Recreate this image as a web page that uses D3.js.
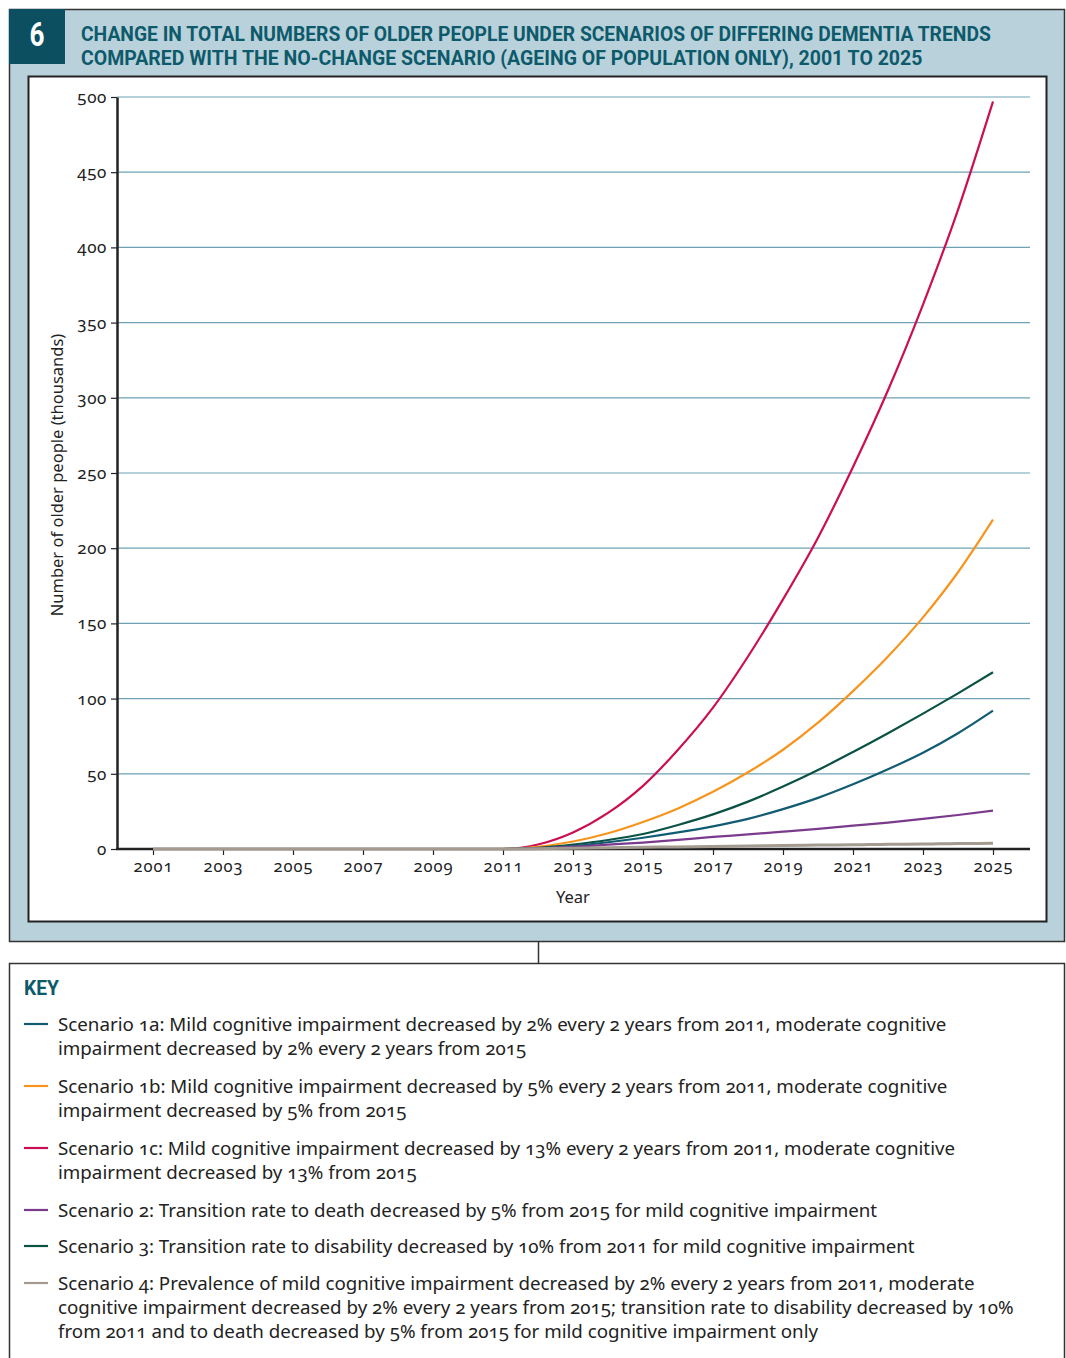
<!DOCTYPE html>
<html>
<head>
<meta charset="utf-8">
<script src="https://cdn.jsdelivr.net/npm/d3@7"></script>
<style>
  body { margin: 0; background: #fff; }
  svg { display: block; }
  .body-font { font-family: "Noto Sans", "Open Sans", sans-serif; font-variant-numeric: oldstyle-nums; }
  .title-font { font-family: Roboto, "Liberation Sans", sans-serif; font-weight: bold; }
</style>
</head>
<body>
<svg id="chart"></svg>
<script>
// years on the x axis
const years = d3.range(2001, 2026);
const tickYears = [2001, 2003, 2005, 2007, 2009, 2011, 2013, 2015, 2017, 2019, 2021, 2023, 2025];
const yTicks = [0, 50, 100, 150, 200, 250, 300, 350, 400, 450, 500];

// values in thousands, 2001..2025 (zero until 2011)
const zeros = [0, 0, 0, 0, 0, 0, 0, 0, 0, 0, 0];
const s1a = zeros.concat([0.5, 2, 4.5, 7.5, 11, 15, 20, 26.5, 34, 43, 53, 64, 77, 92]);
const s1b = zeros.concat([1.5, 5, 10.5, 18, 27, 38, 51, 66, 84, 105, 128, 154, 184, 219]);
const s1c = zeros.concat([3, 11, 24, 42, 66, 94, 128, 166, 207, 254, 305, 362, 425, 497]);
const s2 = zeros.concat([0.4, 1.5, 2.9, 4.3, 6.1, 8, 9.7, 11.5, 13.4, 15.5, 17.6, 20, 22.6, 25.5]);
const s3 = zeros.concat([0.8, 3, 6, 10, 16, 23, 31.5, 41.5, 52.5, 64.5, 77, 90, 103.5, 117.5]);
const s4 = zeros.concat([0.2, 0.5, 0.8, 1.1, 1.4, 1.7, 2, 2.3, 2.6, 2.8, 3.1, 3.3, 3.6, 3.8]);

const seriesNames = ["1a", "1b", "1c", "2", "3", "4"];
const seriesValues = [s1a, s1b, s1c, s2, s3, s4];
const seriesColors = ["#115c72", "#f7941d", "#cc0e52", "#7a3b8c", "#0a5243", "#a39a90"];

const titleLines = [
  "CHANGE IN TOTAL NUMBERS OF OLDER PEOPLE UNDER SCENARIOS OF DIFFERING DEMENTIA TRENDS",
  "COMPARED WITH THE NO-CHANGE SCENARIO (AGEING OF POPULATION ONLY), 2001 TO 2025"
];

const keyLines = [
  ["Scenario 1a: Mild cognitive impairment decreased by 2% every 2 years from 2011, moderate cognitive",
   "impairment decreased by 2% every 2 years from 2015"],
  ["Scenario 1b: Mild cognitive impairment decreased by 5% every 2 years from 2011, moderate cognitive",
   "impairment decreased by 5% from 2015"],
  ["Scenario 1c: Mild cognitive impairment decreased by 13% every 2 years from 2011, moderate cognitive",
   "impairment decreased by 13% from 2015"],
  ["Scenario 2: Transition rate to death decreased by 5% from 2015 for mild cognitive impairment"],
  ["Scenario 3: Transition rate to disability decreased by 10% from 2011 for mild cognitive impairment"],
  ["Scenario 4: Prevalence of mild cognitive impairment decreased by 2% every 2 years from 2011, moderate",
   "cognitive impairment decreased by 2% every 2 years from 2015; transition rate to disability decreased by 10%",
   "from 2011 and to death decreased by 5% from 2015 for mild cognitive impairment only"]
];

const W = 1066, H = 1358;
const teal = "#0d5a6b";

const svg = d3.select("#chart").attr("width", W).attr("height", H);

// fit a text element's font size so its width matches a target
function fitFont(sel, target, start) {
  sel.style("font-size", start + "px");
  const w = sel.node().getComputedTextLength();
  const size = start * target / w;
  sel.style("font-size", size + "px");
  return size;
}

// condensed look: squeeze a bold text horizontally to a target width
function condensed(parent, str, px, py, size, target, color, anchor) {
  const g = parent.append("g");
  const t = g.append("text")
    .attr("class", "title-font")
    .attr("text-anchor", anchor || "start")
    .attr("fill", color)
    .style("font-size", size + "px")
    .text(str);
  const k = target / t.node().getComputedTextLength();
  g.attr("transform", `translate(${px},${py}) scale(${k},1)`);
  return k;
}

// ---- top panel ----
svg.append("rect")
  .attr("x", 9.5).attr("y", 9.5).attr("width", 1055).attr("height", 932)
  .attr("fill", "#b9d1db").attr("stroke", "#333").attr("stroke-width", 1.5);

svg.append("rect")
  .attr("x", 9).attr("y", 9).attr("width", 56).attr("height", 55)
  .attr("fill", "#0b4f61");

condensed(svg, "6", 37, 46, 34, 15, "#fff", "middle");
condensed(svg, titleLines[0], 81, 41, 21, 910, teal);
condensed(svg, titleLines[1], 81, 65, 21, 842, teal);

svg.append("rect")
  .attr("x", 28.5).attr("y", 76.5).attr("width", 1018).attr("height", 845)
  .attr("fill", "#fff").attr("stroke", "#222").attr("stroke-width", 2);

// ---- chart ----
const x = d3.scaleLinear().domain([2001, 2025]).range([153, 993]);
const y = d3.scaleLinear().domain([0, 500]).range([849, 97]);
const axisLeftX = 117, axisRightX = 1030;

const chart = svg.append("g");

chart.append("g")
  .selectAll("line")
  .data(yTicks.filter(d => d > 0))
  .join("line")
  .attr("x1", axisLeftX).attr("x2", axisRightX)
  .attr("y1", d => y(d)).attr("y2", d => y(d))
  .attr("stroke", "#6ea2b4").attr("stroke-width", 1.2);

const yAxis = d3.axisLeft(y).tickValues(yTicks).tickSize(6).tickSizeOuter(0).tickPadding(4);
const yg = chart.append("g")
  .attr("transform", `translate(${axisLeftX},0)`)
  .call(yAxis);
yg.select(".domain").attr("stroke", "#222").attr("stroke-width", 2.5);
yg.selectAll(".tick line").attr("stroke", "#222").attr("stroke-width", 1.2);
yg.selectAll(".tick text")
  .attr("class", "body-font")
  .style("font-size", "17px")
  .style("letter-spacing", "0.6px")
  .attr("fill", "#222");

const xAxis = d3.axisBottom(x).tickValues(tickYears).tickFormat(d3.format("d")).tickSize(6).tickSizeOuter(0).tickPadding(5);
const xg = chart.append("g")
  .attr("transform", `translate(0,${y(0)})`)
  .call(xAxis);
xg.select(".domain").remove();
xg.append("line")
  .attr("x1", axisLeftX - 1).attr("x2", axisRightX)
  .attr("stroke", "#222").attr("stroke-width", 2.5);
xg.selectAll(".tick line").attr("stroke", "#222").attr("stroke-width", 1.2);
xg.selectAll(".tick text")
  .attr("class", "body-font")
  .style("font-size", "16.5px")
  .style("letter-spacing", "1px")
  .attr("fill", "#222");

svg.append("text")
  .attr("class", "body-font")
  .attr("x", 573).attr("y", 903)
  .attr("text-anchor", "middle")
  .style("font-size", "16.5px")
  .attr("fill", "#222")
  .text("Year");

svg.append("text")
  .attr("class", "body-font")
  .attr("transform", "translate(63,475) rotate(-90)")
  .attr("text-anchor", "middle")
  .style("font-size", "16.5px")
  .attr("fill", "#222")
  .text("Number of older people (thousands)");

const line = d3.line()
  .x((d, i) => x(years[i]))
  .y(d => y(d))
  .curve(d3.curveMonotoneX);

// draw in an order so the grey line sits on top near the axis
const drawOrder = [2, 1, 4, 0, 3, 5];
chart.append("g")
  .selectAll("path")
  .data(drawOrder)
  .join("path")
  .attr("d", i => line(seriesValues[i]))
  .attr("fill", "none")
  .attr("stroke", i => seriesColors[i])
  .attr("stroke-width", i => seriesNames[i] === "4" ? 3 : 2.2);

// ---- key ----
svg.append("line")
  .attr("x1", 538.5).attr("x2", 538.5).attr("y1", 942).attr("y2", 963)
  .attr("stroke", "#333").attr("stroke-width", 1.5);

svg.append("rect")
  .attr("x", 9.5).attr("y", 963.5).attr("width", 1055).attr("height", 420)
  .attr("fill", "#fff").attr("stroke", "#333").attr("stroke-width", 1.5);

condensed(svg, "KEY", 24, 995, 20, 35, teal);

const keyTops = [1031, 1093, 1155, 1217, 1253, 1290];
const probe = svg.append("text").attr("class", "body-font").text(keyLines[0][0]);
const keySize = fitFont(probe, 889, 18);
probe.remove();

const key = svg.append("g")
  .selectAll("g")
  .data(seriesNames)
  .join("g")
  .attr("transform", (d, i) => `translate(0,${keyTops[i]})`);

key.append("line")
  .attr("x1", 24).attr("x2", 48)
  .attr("y1", -7).attr("y2", -7)
  .attr("stroke", (d, i) => seriesColors[i])
  .attr("stroke-width", 2.2);

key.each(function (d, i) {
  d3.select(this).selectAll("text")
    .data(keyLines[i])
    .join("text")
    .attr("class", "body-font")
    .attr("x", 58)
    .attr("y", (t, j) => j * 24)
    .style("font-size", keySize + "px")
    .attr("fill", "#222")
    .text(t => t);
});
</script>
</body>
</html>
